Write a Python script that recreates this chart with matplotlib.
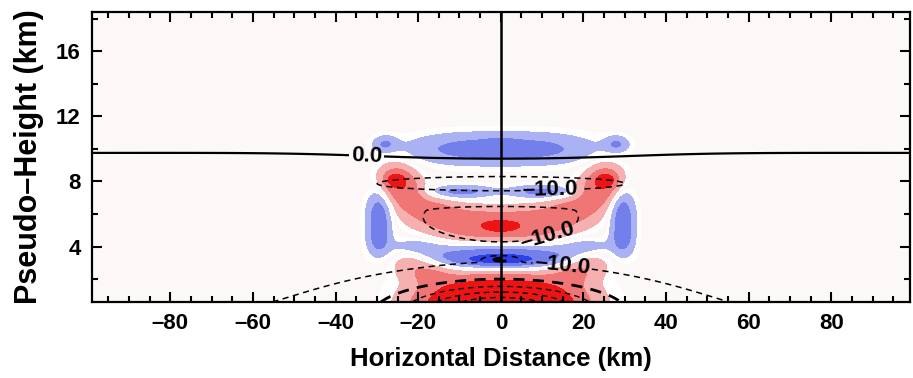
import numpy as np
import matplotlib.pyplot as plt
from matplotlib.colors import ListedColormap, BoundaryNorm

plt.rcParams['font.family'] = ['Liberation Sans', 'DejaVu Sans']
plt.rcParams['font.weight'] = 'bold'

# domain (km)
x_lim = (-99.0, 99.0)
y_lim = (0.6, 18.4)

# shaded field: gaussian cells (x0, y0, sx, sy, amplitude)
cell_x = [0, -10, 10, -22, 22, -17, 17,
          0, -9, 9, -17, 17, -22.5, 22.5, -25.5, 25.5, 0, -25.5, 25.5,
          -9, 9, 0, -28, 28, -10, 10, -29.5, 29.5, -29.5, 29.5, 0, 0, -21, 21]
cell_y = [0.2, 0.2, 0.2, 3.1, 3.1, 2.4, 2.4,
          5.2, 5.45, 5.45, 6.2, 6.2, 7.2, 7.2, 8.1, 8.1, 5.25, 8.1, 8.1,
          10.0, 10.0, 10.5, 10.3, 10.3, 7.35, 7.35, 5.8, 5.8, 4.4, 4.4, 3.35, 3.15, 4.0, 4.0]
cell_sx = [10, 8, 8, 3.5, 3.5, 3.5, 3.5,
           7, 6, 6, 4.5, 4.5, 3.0, 3.0, 3.0, 3.0, 2.5, 1.5, 1.5,
           9.5, 9.5, 2.5, 2, 2, 5.5, 5.5, 2.0, 2.0, 1.8, 1.8, 13, 6, 4, 4]
cell_sy = [1.3, 1.2, 1.2, 0.6, 0.6, 0.55, 0.55,
           0.75, 0.7, 0.7, 0.7, 0.7, 0.75, 0.75, 0.7, 0.7, 0.22, 0.25, 0.25,
           0.65, 0.65, 0.12, 0.35, 0.35, 0.3, 0.3, 1.1, 1.1, 0.6, 0.6, 0.55, 0.25, 0.4, 0.4]
cell_amp = [6.5, 4.5, 4.5, 1.8, 1.8, 1.6, 1.6,
            2.2, 2.2, 2.2, 2.2, 2.2, 2.4, 2.4, 3.0, 3.0, 2.4, 2.5, 2.5,
            -2.4, -2.4, -1.2, -2.2, -2.2, -2.8, -2.8, -3.4, -3.4, -1.8, -1.8, -4.4, -2.4, -1.3, -1.3]

# contoured field: background gradient plus gaussian cells
# (x0, y0, sx, sy below centre, sy above centre, amplitude)
zero_height = 9.75
gradient = 0.8
line_x = [0, 0, 0, 0, 0, 0]
line_y = [9.4, 0, 0, 7.9, 6.2, 3.2]
line_sx = [25, 52, 16, 34, 20, 1.8]
line_sy_lo = [1.2, 3.0, 1.1, 0.5, 1.4, 0.1]
line_sy_hi = [1.2, 3.0, 1.1, 0.5, 0.3, 0.1]
line_amp = [0.45, -4.6, -53, -12.5, -10, -16]

inner_levels = [-50, -40, -30, -20]
inner_widths = [1.0, 1.0, 1.0, 2.0]

shade_bounds = [-100, -4, -2, -0.7, -0.25, 0.25, 0.7, 2, 4, 100]
shade_colors = ['#2f3fe6', '#7380ec', '#aab2f3', '#ffffff', '#fcf8f8',
                '#ffffff', '#f6b0b0', '#f07676', '#ee1414']

xticks = [-80, -60, -40, -20, 0, 20, 40, 60, 80]
yticks = [4, 8, 12, 16]


def cells(X, Y, cx, cy, sx, sy_lo, sy_hi, amp):
    Z = np.zeros_like(X)
    for x0, y0, a, b0, b1, c in zip(cx, cy, sx, sy_lo, sy_hi, amp):
        b = np.where(Y < y0, b0, b1)
        Z += c * np.exp(-0.5 * ((X - x0) / a) ** 2 - 0.5 * ((Y - y0) / b) ** 2)
    return Z


x = np.linspace(x_lim[0], x_lim[1], 700)
y = np.linspace(y_lim[0], y_lim[1], 500)
X, Y = np.meshgrid(x, y)

S = cells(X, Y, cell_x, cell_y, cell_sx, cell_sy, cell_sy, cell_amp)
L = gradient * (Y - zero_height) + cells(X, Y, line_x, line_y, line_sx,
                                         line_sy_lo, line_sy_hi, line_amp)

fig = plt.figure(figsize=(9.13, 3.78), dpi=100)
ax = fig.add_axes([0.1004, 0.201, 0.8963, 0.767])

cmap = ListedColormap(shade_colors)
norm = BoundaryNorm(shade_bounds, cmap.N)
ax.contourf(X, Y, S, levels=shade_bounds, cmap=cmap, norm=norm)

dash = (0, (4, 3))
ax.contour(X, Y, L, levels=inner_levels, colors='k',
           linewidths=inner_widths, linestyles=[dash])
c10 = ax.contour(X, Y, L, levels=[-10], colors='k', linewidths=1.1,
                 linestyles=[dash])
c0 = ax.contour(X, Y, L, levels=[0], colors='k', linewidths=1.6,
                linestyles='solid')

fmt = lambda v: f'{v:.1f}'.replace('-', '\u2013')
ax.clabel(c10, manual=[(12, 7.5), (11, 5.0), (14.8, 2.7)],
          fmt=fmt, fontsize=16, inline=True, inline_spacing=2)
ax.clabel(c0, manual=[(-32.5, 9.6)], fmt=fmt, fontsize=16,
          inline=True, inline_spacing=2)

ax.axvline(0, color='k', lw=1.8)

ax.set_xlim(x_lim)
ax.set_ylim(y_lim)
ax.set_xticks(xticks)
ax.set_yticks(yticks)
ax.set_xticklabels([str(t).replace('-', '\u2013') for t in xticks])
ax.set_yticklabels([str(t) for t in yticks])
ax.set_xticks(np.arange(-95, 100, 5), minor=True)
ax.set_yticks(np.arange(2, 18.5, 2), minor=True)
ax.tick_params(which='both', direction='in', top=True, right=True,
               width=1.5, labelsize=16)
ax.tick_params(which='major', length=7, pad=8)
ax.tick_params(which='minor', length=4)
for s in ax.spines.values():
    s.set_linewidth(1.6)

ax.set_xlabel('Horizontal Distance (km)', fontsize=18.5, fontweight='bold')
ax.set_ylabel('Pseudo\u2013Height (km)', fontsize=22, fontweight='bold')
ax.xaxis.set_label_coords(0.5, -0.155)
ax.yaxis.set_label_coords(-0.058, 0.5)

fig.savefig('out.png', dpi=100)
